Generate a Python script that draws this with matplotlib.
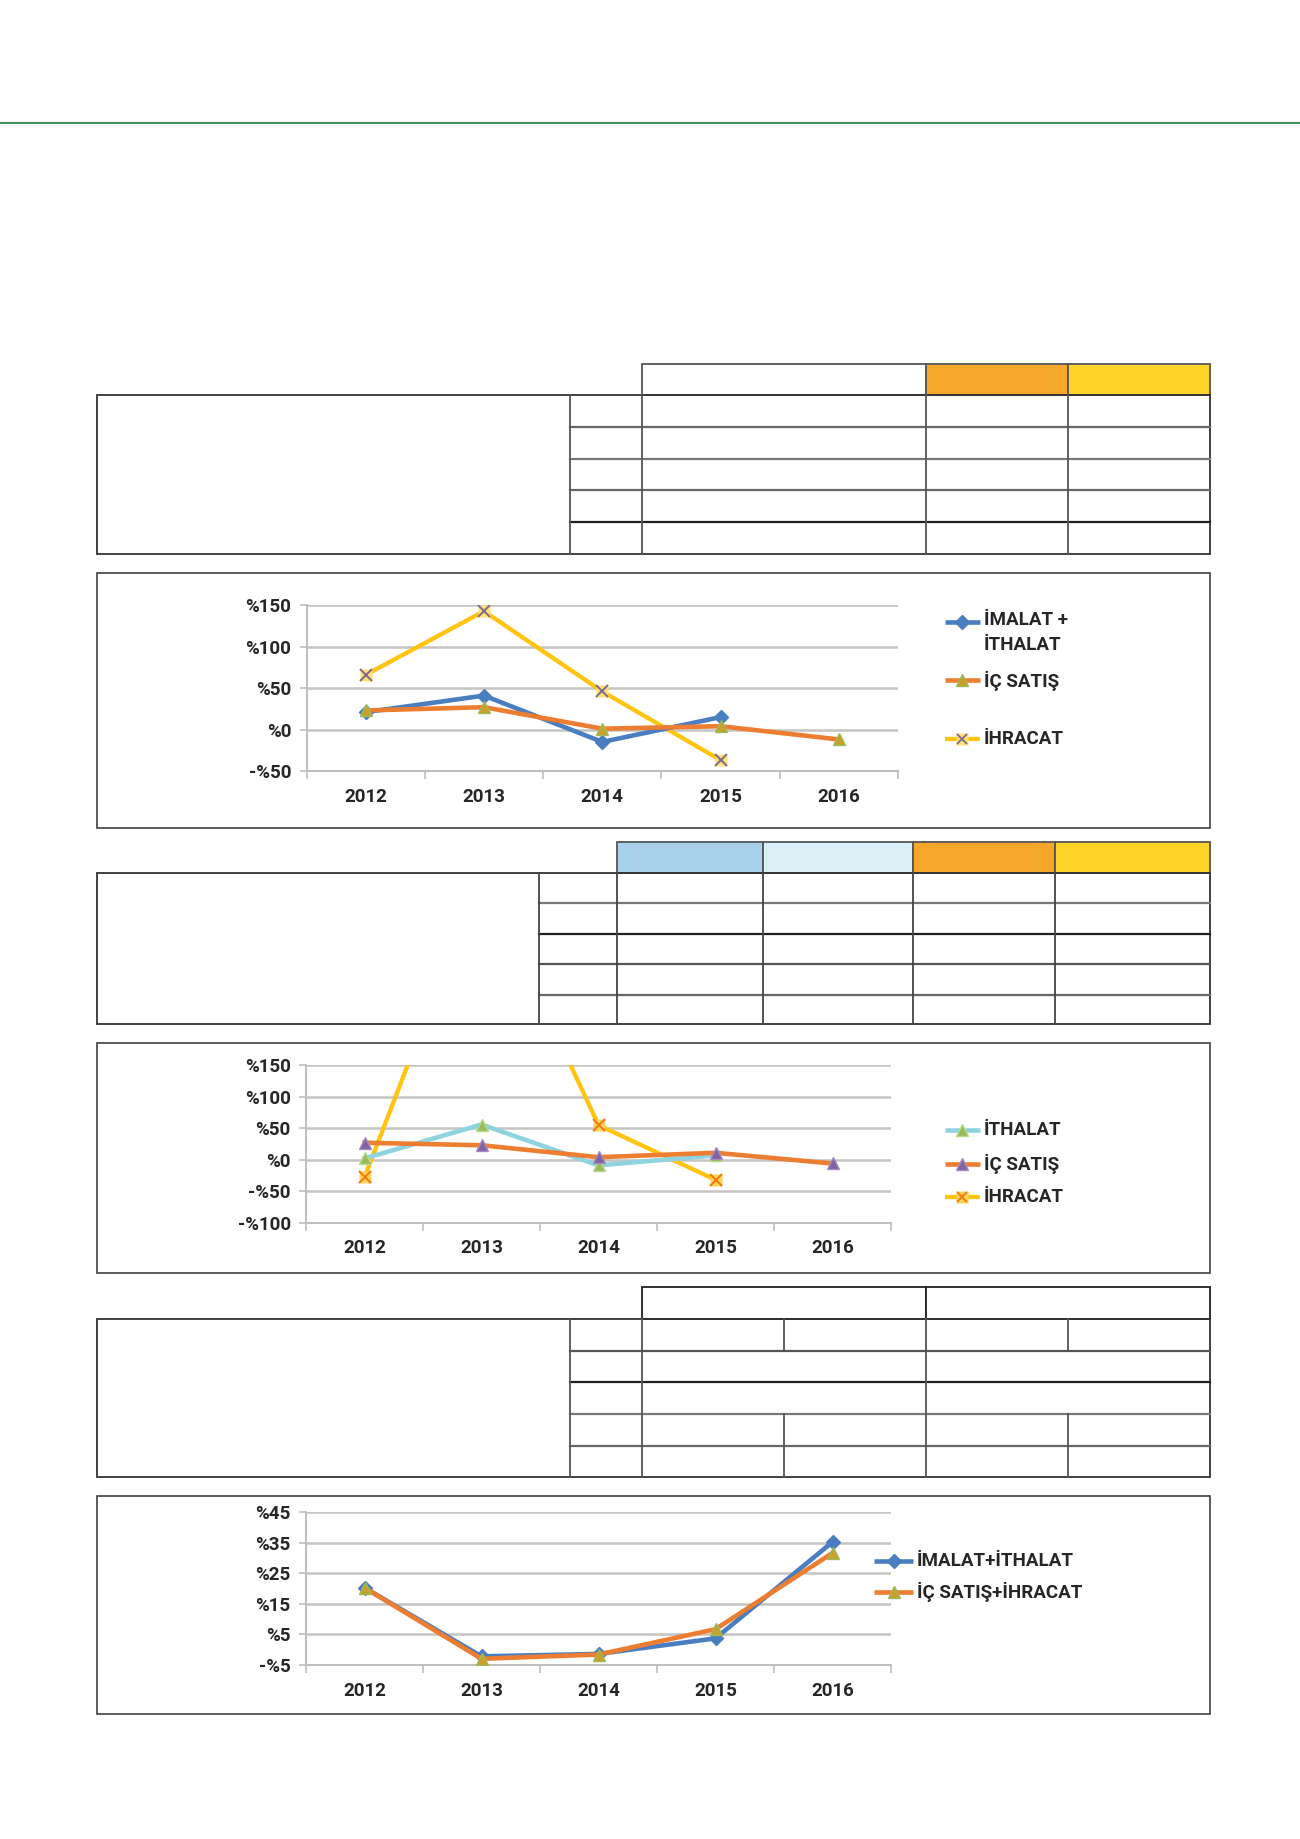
import matplotlib
matplotlib.use('Agg')
import matplotlib.pyplot as plt
from matplotlib.lines import Line2D
from matplotlib.patches import Rectangle
from matplotlib.ticker import FuncFormatter, FixedLocator

W, H = 1300, 1839
plt.rcParams['font.family'] = ['Roboto', 'DejaVu Sans']
plt.rcParams['font.weight'] = 'bold'

years = ['2012', '2013', '2014', '2015', '2016']

# chart 1 (% change)
imalat_ithalat_1 = [21, 41, -15, 15]
ic_satis_1 = [23, 27, 1, 4, -12]
ihracat_1 = [66, 143, 46, -37]
yticks_1 = [-50, 0, 50, 100, 150]

# chart 2
ithalat_2 = [2, 56, -9, 7]
ic_satis_2 = [27, 23, 4, 11, -6]
ihracat_2 = [-28, 455, 55, -32]
yticks_2 = [-100, -50, 0, 50, 100, 150]

# chart 3
imalat_ithalat_3 = [20.3, -2.2, -1.4, 3.7, 35.3]
ic_satis_ihracat_3 = [20.3, -3.0, -1.6, 6.7, 31.7]
yticks_3 = [-5, 5, 15, 25, 35, 45]

BLUE = '#4A7EC0'
ORANGE = '#ED7D31'
YELLOW = '#FFC410'
CYAN = '#8ED3DF'
LINE_C = '#333333'
FS = 13.5
LW = 3.3

fig = plt.figure(figsize=(W / 100, H / 100), dpi=100)


def fx(x):
    return x / W


def fy(y):
    return 1 - y / H


def hline(x0, x1, y, c=LINE_C, lw=1.3):
    fig.add_artist(Line2D([fx(x0), fx(x1)], [fy(y), fy(y)], color=c, lw=lw,
                          transform=fig.transFigure))


def vline(x, y0, y1, c=LINE_C, lw=1.3):
    fig.add_artist(Line2D([fx(x), fx(x)], [fy(y0), fy(y1)], color=c, lw=lw,
                          transform=fig.transFigure))


def box(x0, y0, x1, y1, fc='none', ec=LINE_C, lw=1.3):
    fig.add_artist(Rectangle((fx(x0), fy(y1)), fx(x1) - fx(x0), fy(y0) - fy(y1),
                             facecolor=fc, edgecolor=ec, lw=lw,
                             transform=fig.transFigure))


# green rule at top
hline(0, W, 123, c='#3F8F63', lw=1.5)

# ---- table 1
box(641.8, 363.7, 925.7, 395.4, fc='white', ec='#555555')
box(925.7, 363.7, 1067.7, 395.4, fc='#F5A72C', ec='#555555')
box(1067.7, 363.7, 1209.6, 395.4, fc='#FFD42A', ec='#555555')
box(97.4, 395.4, 1209.6, 553.8)
for y, c in zip([426.8, 458.7, 490.3, 522.2], ['#666666', '#777777', '#666666', '#222222']):
    hline(570.2, 1209.6, y, c=c, lw=1.6)
for x in [570.2, 641.8, 925.7, 1067.7]:
    vline(x, 395.4, 553.8, c='#555555')

# ---- table 2
hdr2 = [(617.2, 762.6, '#A9D1EC'), (762.6, 912.8, '#DAEEF5'),
        (912.8, 1054.8, '#F5A72C'), (1054.8, 1209.6, '#FFD42A')]
for x0, x1, c in hdr2:
    box(x0, 842.4, x1, 872.9, fc=c, ec='#555555')
box(97.4, 872.9, 1209.6, 1024.3)
for y, c in zip([903.4, 933.9, 964.4, 995.0], ['#777777', '#222222', '#555555', '#666666']):
    hline(538.5, 1209.6, y, c=c, lw=1.6)
for x in [538.5, 617.2, 762.6, 912.8, 1054.8]:
    vline(x, 872.9, 1024.3, c='#444444')

# ---- table 3
box(641.8, 1287.1, 925.7, 1318.8, fc='white', ec='#222222')
box(925.7, 1287.1, 1209.6, 1318.8, fc='white', ec='#222222')
box(97.4, 1318.8, 1209.6, 1477.2)
rows3 = [1318.8, 1350.5, 1382.2, 1413.8, 1445.5, 1477.2]
for y, c in zip(rows3[1:-1], ['#555555', '#222222', '#777777', '#666666']):
    hline(570.2, 1209.6, y, c=c, lw=1.6)
vline(570.2, 1318.8, 1477.2, c='#555555')
vline(641.8, 1318.8, 1477.2, c='#555555')
vline(925.7, 1318.8, 1477.2, c='#555555')
for i in [0, 3, 4]:
    vline(783.8, rows3[i], rows3[i + 1], c='#555555')
    vline(1067.7, rows3[i], rows3[i + 1], c='#555555')

# chart frames
box(97.4, 572.6, 1209.6, 828.4, ec='#404040', lw=1.2)
box(97.4, 1043.0, 1209.6, 1273.0, ec='#404040', lw=1.2)
box(97.4, 1496.0, 1209.6, 1714.2, ec='#404040', lw=1.2)


def pct(v, pos=None):
    v = int(round(v))
    return ('-%' if v < 0 else '%') + str(abs(v))


def make_axes(x0, x1, ytop, ybot, ticks):
    ax = fig.add_axes([fx(x0), fy(ybot), fx(x1) - fx(x0), fy(ytop) - fy(ybot)])
    ax.set_xlim(-0.5, 4.5)
    ax.set_ylim(ticks[0], ticks[-1])
    ax.set_yticks(ticks)
    ax.yaxis.set_major_formatter(FuncFormatter(pct))
    ax.set_xticks(range(5))
    ax.set_xticklabels(years)
    ax.xaxis.set_minor_locator(FixedLocator([i - 0.5 for i in range(6)]))
    ax.tick_params(axis='x', which='major', length=0, pad=12, labelsize=FS,
                   labelcolor='#262626')
    ax.tick_params(axis='x', which='minor', length=6, color='#BFBFBF', width=1.2)
    ax.tick_params(axis='y', length=5, color='#BFBFBF', width=1.2, pad=6, labelsize=FS,
                   labelcolor='#262626')
    for s in ['top', 'right']:
        ax.spines[s].set_visible(False)
    for s in ['left', 'bottom']:
        ax.spines[s].set_color('#BFBFBF')
        ax.spines[s].set_linewidth(1.4)
    ax.yaxis.grid(True, color='#C4C4C4', lw=1.8)
    ax.set_axisbelow(True)
    ax.patch.set_alpha(0)
    return ax


def legend_item(x0, x1, y, color, lw, label, mk=None, mfc=None, mec=None, ms=7,
                xmk=None, va='center', tx_dy=0):
    fig.add_artist(Line2D([fx(x0), fx(x1)], [fy(y), fy(y)], color=color, lw=lw,
                          transform=fig.transFigure, solid_capstyle='butt'))
    xm = (x0 + x1) / 2
    if mk:
        fig.add_artist(Line2D([fx(xm)], [fy(y)], marker=mk, ms=ms, mfc=mfc, mec=mec,
                              ls='none', transform=fig.transFigure))
    if xmk:
        fig.add_artist(Line2D([fx(xm)], [fy(y)], marker='x', ms=7, mew=1.3, color=xmk,
                              ls='none', transform=fig.transFigure))
    fig.text(fx(x1 + 4), fy(y + tx_dy), label, fontsize=FS, va=va, ha='left',
             color='#262626', linespacing=1.55)


def ihracat_plot(ax, xs, vals, sq, xc):
    ax.plot(xs, vals, color=YELLOW, lw=LW - 0.2, zorder=3)
    ax.plot(xs, vals, ls='none', marker='s', ms=9, mfc=sq, mec='none', zorder=4)
    ax.plot(xs, vals, ls='none', marker='x', ms=8, mew=1.4, color=xc, zorder=5)


# ---- chart 1
ax1 = make_axes(306.5, 898.0, 605.4, 770.9, yticks_1)
ihracat_plot(ax1, range(4), ihracat_1, '#FFE07A', '#7F6A8A')
ax1.plot(range(4), imalat_ithalat_1, color=BLUE, lw=LW, marker='D', ms=7,
         mfc=BLUE, mec=BLUE, zorder=4)
ax1.plot(range(5), ic_satis_1, color=ORANGE, lw=LW, marker='^', ms=8,
         mfc='#C9A02C', mec='#9BBB59', zorder=5)

legend_item(944.5, 979.7, 621.8, BLUE, LW, 'İMALAT +\nİTHALAT', mk='D',
            mfc=BLUE, mec=BLUE, va='top', tx_dy=-11)
legend_item(944.5, 979.7, 680.5, ORANGE, LW, 'İÇ SATIŞ', mk='^',
            mfc='#C9A02C', mec='#9BBB59', ms=8)
legend_item(944.5, 979.7, 739.2, YELLOW, LW - 0.2, 'İHRACAT', mk='s',
            mfc='#FFE07A', mec='none', ms=9, xmk='#7F6A8A')

# ---- chart 2
ax2 = make_axes(306.0, 891.0, 1065.4, 1222.6, yticks_2)
ihracat_plot(ax2, range(4), ihracat_2, '#FFD35A', '#F07A10')
ax2.plot(range(4), ithalat_2, color=CYAN, lw=LW, marker='^', ms=8,
         mfc='#9BBB59', mec='#B5D98A', zorder=4)
ax2.plot(range(5), ic_satis_2, color=ORANGE, lw=LW, marker='^', ms=8,
         mfc='#8064A2', mec='#A58BC4', zorder=5)

legend_item(944.5, 979.7, 1129.9, CYAN, LW, 'İTHALAT', mk='^',
            mfc='#9BBB59', mec='#B5D98A', ms=8)
legend_item(944.5, 979.7, 1163.9, ORANGE, LW, 'İÇ SATIŞ', mk='^',
            mfc='#8064A2', mec='#A58BC4', ms=8)
legend_item(944.5, 979.7, 1196.8, YELLOW, LW - 0.2, 'İHRACAT', mk='s',
            mfc='#FFD35A', mec='none', ms=9, xmk='#F07A10')

# ---- chart 3
ax3 = make_axes(306.0, 891.0, 1512.4, 1664.9, yticks_3)
ax3.plot(range(5), imalat_ithalat_3, color=BLUE, lw=LW, marker='D', ms=7,
         mfc=BLUE, mec=BLUE, zorder=4)
ax3.plot(range(5), ic_satis_ihracat_3, color=ORANGE, lw=LW, marker='^', ms=8,
         mfc='#C9A02C', mec='#9BBB59', zorder=5)

legend_item(874.0, 913.0, 1560.5, BLUE, LW, 'İMALAT+İTHALAT', mk='D',
            mfc=BLUE, mec=BLUE)
legend_item(874.0, 913.0, 1592.2, ORANGE, LW, 'İÇ SATIŞ+İHRACAT', mk='^',
            mfc='#C9A02C', mec='#9BBB59', ms=8)

fig.savefig('out.png', dpi=100)
